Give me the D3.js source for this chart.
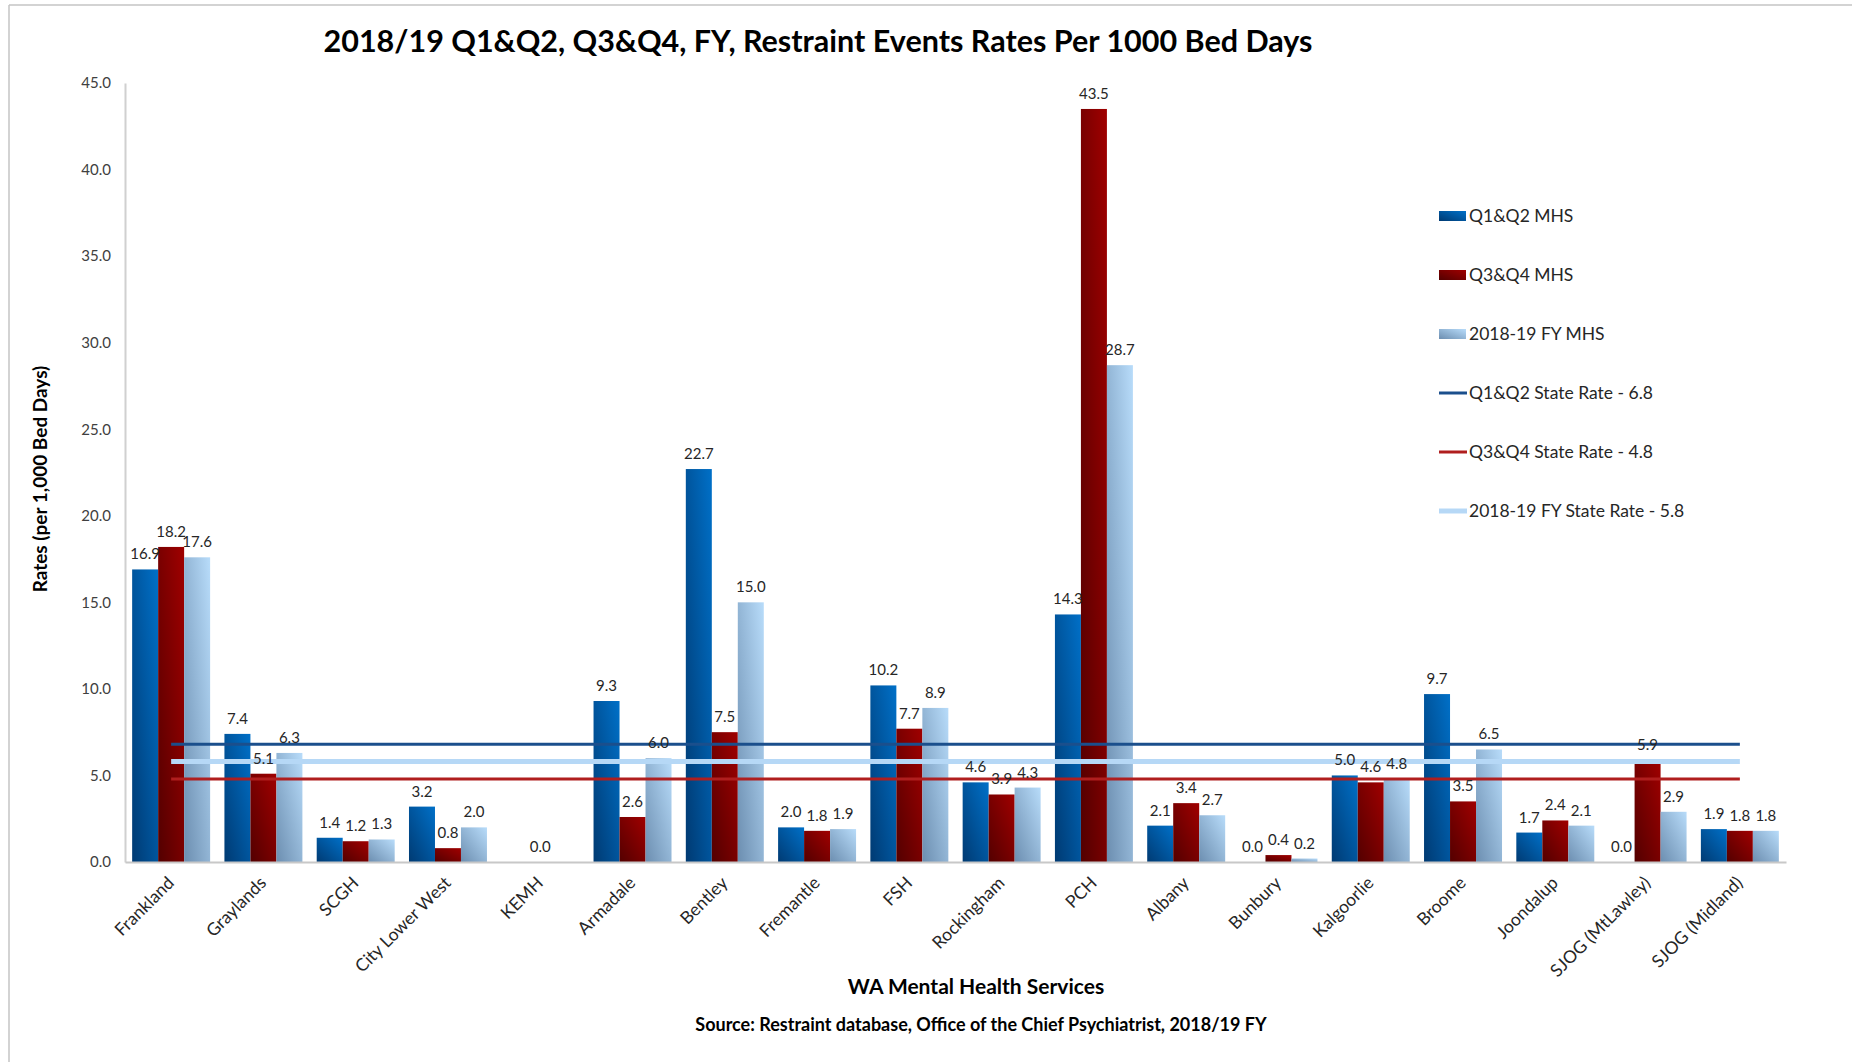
<!DOCTYPE html>
<html>
<head>
<meta charset="utf-8">
<script src="https://cdn.jsdelivr.net/npm/d3@7"></script>
<style>
  body { margin: 0; background: #fff; }
  svg text { font-family: Lato, "Open Sans", sans-serif; }
</style>
</head>
<body>
<div id="chart"></div>
<script>
const width = 1852;
const height = 1062;

const services = ["Frankland", "Graylands", "SCGH", "City Lower West", "KEMH", "Armadale", "Bentley",
  "Fremantle", "FSH", "Rockingham", "PCH", "Albany", "Bunbury", "Kalgoorlie", "Broome", "Joondalup",
  "SJOG (MtLawley)", "SJOG (Midland)"];
const q1q2 = [16.9, 7.4, 1.4, 3.2, null, 9.3, 22.7, 2.0, 10.2, 4.6, 14.3, 2.1, 0.0, 5.0, 9.7, 1.7, 0.0, 1.9];
const q3q4 = [18.2, 5.1, 1.2, 0.8, 0.0, 2.6, 7.5, 1.8, 7.7, 3.9, 43.5, 3.4, 0.4, 4.6, 3.5, 2.4, 5.9, 1.8];
const fy = [17.6, 6.3, 1.3, 2.0, null, 6.0, 15.0, 1.9, 8.9, 4.3, 28.7, 2.7, 0.2, 4.8, 6.5, 2.1, 2.9, 1.8];
const seriesNames = ["Q1&Q2 MHS", "Q3&Q4 MHS", "2018-19 FY MHS"];
const stateNames = ["Q1&Q2 State Rate - 6.8", "Q3&Q4 State Rate - 4.8", "2018-19 FY State Rate - 5.8"];
const stateRates = [6.8, 4.8, 5.8];
const yTicks = [0, 5, 10, 15, 20, 25, 30, 35, 40, 45];

const series = [q1q2, q3q4, fy];
const gradIds = ["gBlue", "gRed", "gLight"];
const lineColors = ["#1b4f8c", "#b01e1e", "#b6d8f6"];
const lineWidths = [3, 3, 5];

const svg = d3.select("#chart").append("svg")
    .attr("width", width)
    .attr("height", height);

// gradients like the excel fills
const defs = svg.append("defs");
const gradStops = [
  ["#003a72", "#0070c8"],
  ["#530000", "#a00000"],
  ["#6c8eb0", "#b8dcfa"]
];
gradIds.forEach((id, i) => {
  let g = defs.append("linearGradient")
      .attr("id", id)
      .attr("x1", 0).attr("y1", 1)
      .attr("x2", 1).attr("y2", 0);
  g.append("stop").attr("offset", "0%").attr("stop-color", gradStops[i][0]);
  g.append("stop").attr("offset", "100%").attr("stop-color", gradStops[i][1]);
});

// frame lines
svg.append("line").attr("x1", 9).attr("x2", width).attr("y1", 5).attr("y2", 5)
    .attr("stroke", "#c4c4c4").attr("stroke-width", 1.5);
svg.append("line").attr("x1", 9).attr("x2", 9).attr("y1", 5).attr("y2", height)
    .attr("stroke", "#c4c4c4").attr("stroke-width", 1.5);

let xScale = d3.scaleBand()
    .domain(services)
    .range([125, 1786])
    .paddingInner(0.155)
    .paddingOuter(0.0775);

let xSub = d3.scaleBand()
    .domain([0, 1, 2])
    .range([0, xScale.bandwidth()]);

let yScale = d3.scaleLinear()
    .domain([0, 45])
    .range([862, 83]);

// y axis
let yAxis = svg.append("g")
    .attr("transform", "translate(125,0)")
    .call(d3.axisLeft(yScale).tickValues(yTicks).tickFormat(d3.format(".1f")).tickSize(0).tickPadding(14));
yAxis.select(".domain").attr("stroke", "#d0d0d0").attr("stroke-width", 2);
yAxis.selectAll("text").style("font-size", "15px").attr("fill", "#404040");

// bars
series.forEach((vals, si) => {
  svg.append("g").selectAll("rect")
    .data(services.map((s, i) => ({ s: s, v: vals[i] })).filter(d => d.v !== null && d.v > 0))
    .enter()
    .append("rect")
    .attr("x", d => xScale(d.s) + xSub(si))
    .attr("width", xSub.bandwidth())
    .attr("y", d => yScale(d.v))
    .attr("height", d => yScale(0) - yScale(d.v))
    .attr("fill", `url(#${gradIds[si]})`);
});

// x axis
let xAxis = svg.append("g")
    .attr("transform", "translate(0,862)")
    .call(d3.axisBottom(xScale).tickSize(0).tickPadding(0));
xAxis.select(".domain").attr("stroke", "#c8c8c8").attr("stroke-width", 2);
xAxis.selectAll("text")
    .style("font-size", "17.5px")
    .attr("fill", "#262626")
    .attr("text-anchor", "end")
    .attr("dy", null)
    .attr("transform", "translate(4,22) rotate(-45)");

// state rate lines
let first = services[0], last = services[services.length - 1];
stateRates.forEach((r, i) => {
  svg.append("line")
    .attr("x1", xScale(first) + xScale.bandwidth() / 2)
    .attr("x2", xScale(last) + xScale.bandwidth() / 2)
    .attr("y1", yScale(r))
    .attr("y2", yScale(r))
    .attr("stroke", lineColors[i])
    .attr("stroke-width", lineWidths[i]);
});

// value labels
series.forEach((vals, si) => {
  svg.append("g").selectAll("text")
    .data(services.map((s, i) => ({ s: s, v: vals[i] })).filter(d => d.v !== null))
    .enter()
    .append("text")
    .attr("x", d => xScale(d.s) + xSub(si) + xSub.bandwidth() / 2)
    .attr("y", d => yScale(d.v) - 10)
    .attr("text-anchor", "middle")
    .style("font-size", "15px")
    .attr("fill", "#262626")
    .text(d => d3.format(".1f")(d.v));
});

// legend
let legend = svg.append("g").attr("transform", "translate(1439,0)");
seriesNames.forEach((n, i) => {
  let y = 216 + i * 59;
  legend.append("rect").attr("x", 0).attr("y", y - 5).attr("width", 27).attr("height", 10)
    .attr("fill", `url(#${gradIds[i]})`);
  legend.append("text").attr("x", 30).attr("y", y).attr("dy", "0.35em")
    .style("font-size", "17.5px").attr("fill", "#262626").text(n);
});
stateNames.forEach((n, i) => {
  let y = 393 + i * 59;
  legend.append("line").attr("x1", 0).attr("x2", 28).attr("y1", y).attr("y2", y)
    .attr("stroke", lineColors[i]).attr("stroke-width", lineWidths[i]);
  legend.append("text").attr("x", 30).attr("y", y).attr("dy", "0.35em")
    .style("font-size", "17.5px").attr("fill", "#262626").text(n);
});

// titles
svg.append("text")
    .attr("x", 818).attr("y", 41).attr("dy", "0.35em")
    .attr("text-anchor", "middle")
    .style("font-size", "30.5px").style("font-weight", "bold").attr("fill", "#000")
    .text("2018/19 Q1&Q2, Q3&Q4, FY, Restraint Events Rates Per 1000 Bed Days");

svg.append("text")
    .attr("transform", "translate(40,479) rotate(-90)")
    .attr("dy", "0.35em")
    .attr("text-anchor", "middle")
    .style("font-size", "19px").style("font-weight", "bold").attr("fill", "#000")
    .text("Rates (per 1,000 Bed Days)");

svg.append("text")
    .attr("x", 976).attr("y", 987).attr("dy", "0.35em")
    .attr("text-anchor", "middle")
    .style("font-size", "21px").style("font-weight", "bold").attr("fill", "#000")
    .text("WA Mental Health Services");

svg.append("text")
    .attr("x", 981).attr("y", 1025).attr("dy", "0.35em")
    .attr("text-anchor", "middle")
    .style("font-size", "18px").style("font-weight", "bold").attr("fill", "#000")
    .text("Source: Restraint database, Office of the Chief Psychiatrist, 2018/19 FY");
</script>
</body>
</html>
